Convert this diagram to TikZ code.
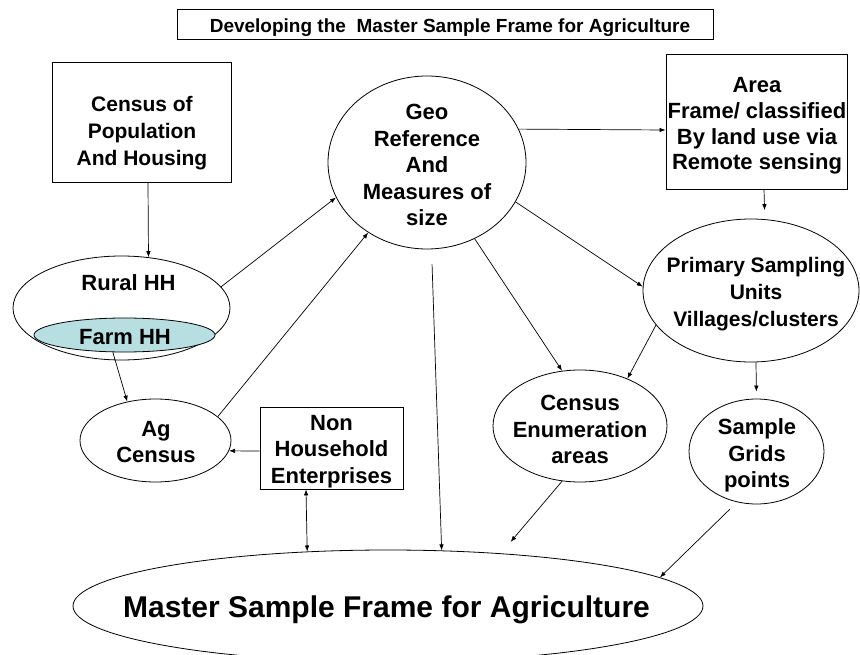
\documentclass[tikz,border=0pt]{standalone}
\usepackage{fontspec}
\setmainfont{Liberation Sans}
\usetikzlibrary{shapes.geometric,arrows.meta}
\definecolor{farmfill}{RGB}{183,222,225}
\begin{document}
\begin{tikzpicture}[x=1pt,y=-1pt,
  line width=0.8pt,
  >={Latex[length=6pt,width=4.5pt]},
  oval/.style={draw, ellipse, inner sep=0pt},
  box/.style={draw, rectangle, inner sep=0pt},
  txt/.style={align=center, inner sep=0pt, font=\bfseries\fontsize{22}{26.5}\selectfont},
  arr/.style={->, line width=0.7pt},
  dbl/.style={<->, line width=0.7pt},
]
\useasboundingbox (0,0) rectangle (860,655);

% heading
\node[box, minimum width=536pt, minimum height=30pt] (title) at (445,24) {};
\node[txt, font=\bfseries\fontsize{19}{22}\selectfont] (titlet) at (450,27.5)
  {Developing the~~Master Sample Frame for Agriculture};

% rectangles
\node[box, minimum width=179pt, minimum height=120pt] (census) at (141.5,122) {};
\node[txt, font=\bfseries\fontsize{21}{27}\selectfont] (censust) at (142,133)
  {Census of\\Population\\And Housing};

\node[box, minimum width=181pt, minimum height=135pt] (area) at (756.5,121.5) {};
\node[txt, font=\bfseries\fontsize{22}{25.7}\selectfont] (areat) at (757,126)
  {Area\\Frame/ classified\\By land use via\\Remote sensing};

\node[box, minimum width=143pt, minimum height=82pt] (nonhh) at (331.5,448) {};
\node[txt] (nonhht) at (331.5,451.5) {Non\\Household\\Enterprises};

% ellipses
\node[oval, minimum width=198pt, minimum height=173pt] (geo) at (427,162.5) {};
\node[txt] (geot) at (427,165) {Geo\\Reference\\And\\Measures of\\size};

\node[oval, minimum width=217pt, minimum height=104pt] (rural) at (121.5,308) {};
\node[txt] (ruralt) at (128.5,283) {Rural HH};
\node[oval, fill=farmfill, minimum width=181pt, minimum height=34pt] (farm) at (124.5,335) {};
\node[txt] (farmt) at (125,337) {Farm HH};

\node[oval, minimum width=151pt, minimum height=83pt] (ag) at (155.5,440.5) {};
\node[txt] (agt) at (156,442) {Ag\\Census};

\node[oval, minimum width=216pt, minimum height=143pt] (primary) at (751,290.5) {};
\node[txt, font=\bfseries\fontsize{21}{27}\selectfont] (primaryt) at (756,294)
  {Primary Sampling\\Units\\Villages/clusters};

\node[oval, minimum width=174pt, minimum height=112pt] (ce) at (580,426) {};
\node[txt] (cet) at (580,429.5) {Census\\Enumeration\\areas};

\node[oval, minimum width=135pt, minimum height=105pt] (sg) at (756.5,451.5) {};
\node[txt] (sgt) at (757,455.5) {Sample\\Grids\\points};

\node[oval, minimum width=630pt, minimum height=112pt] (master) at (388,606) {};
\node[txt, font=\bfseries\fontsize{30}{36}\selectfont] (mastert) at (386.5,609.5)
  {Master Sample Frame for Agriculture};

% connectors
\draw[arr] ([xshift=6.5pt]census.south) -- (rural.62);
\draw[arr] (rural.12) -- (geo.201);
\draw[arr] (ag.21) -- (geo.230);
\draw[arr] (farm.236) -- (ag.126);
\draw[arr] ([yshift=-3pt]nonhh.west) -- (ag.-8.5);
\draw[dbl] ([xshift=-25.5pt]nonhh.south) -- (master.146.6);

\draw[arr] (geo.20.8) -- ([yshift=-8.5pt]area.west);
\draw[arr, shorten >=9pt] ([xshift=7.5pt]area.south) -- (primary.79.6);
\draw[arr] (geo.336) -- (primary.178);
\draw[arr] (geo.302.7) -- (ce.108);
\draw[arr] (primary.200) -- (ce.45.6);
\draw[arr, shorten >=7pt] ([xshift=5pt]primary.south) -- (sg.north);

\draw[arr, shorten <=15pt] (geo.273.3) -- (master.46.2);
\draw[arr, shorten >=15pt] (ce.252) -- (master.25.3);
\draw[arr, shorten <=10pt] (sg.249) -- (master.6.5);
\end{tikzpicture}
\end{document}
